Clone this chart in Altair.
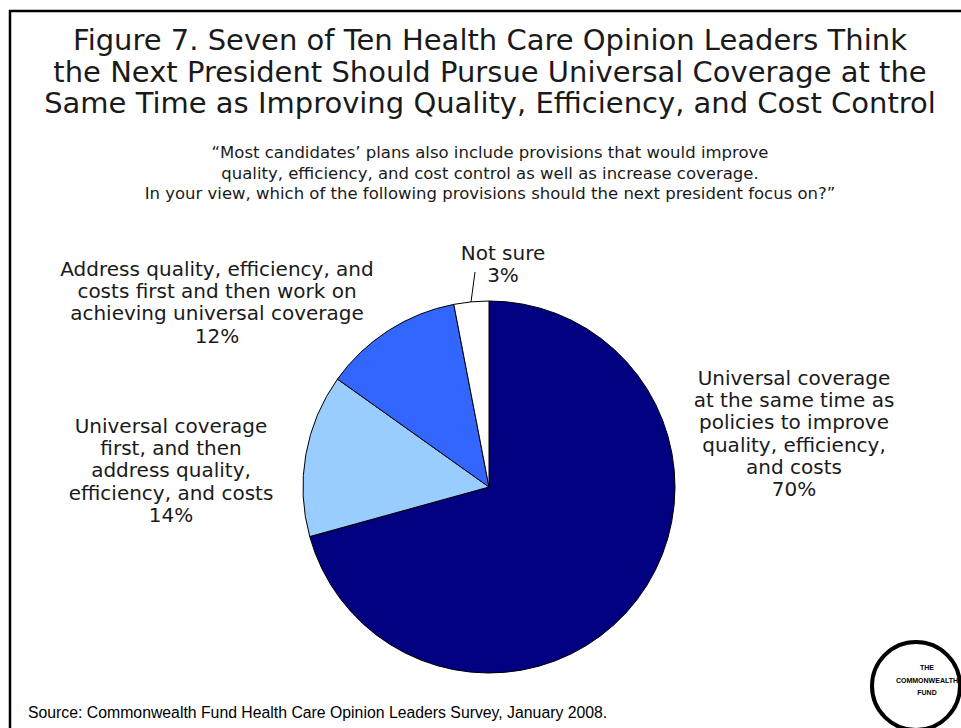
import altair as alt
import pandas as pd

# ---------------- data ----------------
categories = [
    "Universal coverage at the same time as policies to improve quality, efficiency, and costs",
    "Universal coverage first, and then address quality, efficiency, and costs",
    "Address quality, efficiency, and costs first and then work on achieving universal coverage",
    "Not sure",
]
values = [70, 14, 12, 3]
slice_colors = ["#000080", "#99CCFF", "#3366FF", "#FFFFFF"]

label_lines = [
    ["Universal coverage", "at the same time as", "policies to improve",
     "quality, efficiency,", "and costs", "70%"],
    ["Universal coverage", "first, and then", "address quality,",
     "efficiency, and costs", "14%"],
    ["Address quality, efficiency, and", "costs first and then work on",
     "achieving universal coverage", "12%"],
    ["Not sure", "3%"],
]

title_lines = [
    "Figure 7. Seven of Ten Health Care Opinion Leaders Think",
    "the Next President Should Pursue Universal Coverage at the",
    "Same Time as Improving Quality, Efficiency, and Cost Control",
]
subtitle_lines = [
    "\u201cMost candidates\u2019 plans also include provisions that would improve",
    "quality, efficiency, and cost control as well as increase coverage.",
    "In your view, which of the following provisions should the next president focus on?\u201d",
]
source_text = "Source: Commonwealth Fund Health Care Opinion Leaders Survey, January 2008."
logo_lines = ["THE", "COMMONWEALTH", "FUND"]

# ---------------- layout (positions / sizes) ----------------
W, H = 961, 728
CX, CY, R = 489, 487, 186
label_anchor = [(794, 379), (171, 427), (217, 270), (503, 254)]
LABEL_LH = 22.2
TITLE_X, TITLE_Y0, TITLE_LH = 490, 50, 31.5
SUB_Y0, SUB_LH = 158, 20.5

FONT = "DejaVu Sans"
TXT = "#1a1a1a"

xs = alt.Scale(domain=[0, W], range=[0, W], zero=False, nice=False)
ys = alt.Scale(domain=[0, H], range=[0, H], zero=False, nice=False)

# ---------------- pie ----------------
pie_df = pd.DataFrame({"category": categories, "value": values,
                       "idx": list(range(len(values)))})
pie = alt.Chart(pie_df).mark_arc(
    radius=R, stroke="black", strokeWidth=1
).encode(
    theta=alt.Theta("value:Q", stack=True),
    color=alt.Color("category:N", scale=alt.Scale(domain=categories, range=slice_colors),
                    legend=None),
    order=alt.Order("idx:Q"),
    x=alt.value(CX), y=alt.value(CY),
)

# ---------------- slice labels ----------------
rows = []
for lines, (ax, ay) in zip(label_lines, label_anchor):
    for i, t in enumerate(lines):
        rows.append({"text": t, "x": ax, "y": ay + i * LABEL_LH})
lab_df = pd.DataFrame(rows)
labels = alt.Chart(lab_df).mark_text(
    font=FONT, fontSize=20, color=TXT, align="center", baseline="middle"
).encode(
    x=alt.X("x:Q", scale=xs, axis=None),
    y=alt.Y("y:Q", scale=ys, axis=None),
    text="text:N",
)

leader = alt.Chart(pd.DataFrame({"a": [0]})).mark_rule(color="black", strokeWidth=1).encode(
    x=alt.value(475), y=alt.value(272), x2=alt.value(471), y2=alt.value(302)
)

# ---------------- title & subtitle ----------------
t_df = pd.DataFrame({"text": title_lines,
                     "x": [TITLE_X] * 3,
                     "y": [TITLE_Y0 + i * TITLE_LH for i in range(3)]})
title = alt.Chart(t_df).mark_text(
    font=FONT, fontSize=29, color=TXT, align="center", baseline="alphabetic"
).encode(
    x=alt.X("x:Q", scale=xs, axis=None),
    y=alt.Y("y:Q", scale=ys, axis=None),
    text="text:N",
)

s_df = pd.DataFrame({"text": subtitle_lines,
                     "x": [TITLE_X] * 3,
                     "y": [SUB_Y0 + i * SUB_LH for i in range(3)]})
subtitle = alt.Chart(s_df).mark_text(
    font=FONT, fontSize=16.5, color=TXT, align="center", baseline="alphabetic"
).encode(
    x=alt.X("x:Q", scale=xs, axis=None),
    y=alt.Y("y:Q", scale=ys, axis=None),
    text="text:N",
)

source = alt.Chart(pd.DataFrame({"text": [source_text]})).mark_text(
    font="Liberation Sans", fontSize=15.8, color="black", align="left", baseline="middle"
).encode(x=alt.value(28), y=alt.value(713), text="text:N")

# ---------------- frame ----------------
frame_top = alt.Chart(pd.DataFrame({"a": [0]})).mark_rule(color="black", strokeWidth=2.5).encode(
    x=alt.value(9), x2=alt.value(W), y=alt.value(11)
)
frame_left = alt.Chart(pd.DataFrame({"a": [0]})).mark_rule(color="black", strokeWidth=2.5).encode(
    x=alt.value(10), y=alt.value(10), y2=alt.value(H)
)

# ---------------- logo ----------------
logo_circle = alt.Chart(pd.DataFrame({"a": [0]})).mark_point(
    shape="circle", size=88 * 88, filled=True, fill="white", stroke="black",
    strokeWidth=4, opacity=1
).encode(x=alt.value(916), y=alt.value(686))
logo_df = pd.DataFrame({"text": logo_lines, "x": [927] * 3, "y": [668, 681, 693]})
logo_text = alt.Chart(logo_df).mark_text(
    font="Liberation Sans", fontSize=7, fontWeight="bold", color="black",
    align="center", baseline="middle"
).encode(
    x=alt.X("x:Q", scale=xs, axis=None),
    y=alt.Y("y:Q", scale=ys, axis=None),
    text="text:N",
)

chart = alt.layer(
    frame_top, frame_left, pie, leader, labels, title, subtitle, source,
    logo_circle, logo_text
).properties(
    width=W, height=H, padding=0, autosize=alt.AutoSizeParams(type="none"),
    background="white"
).configure_view(stroke=None)

chart.save("out.html", embed_options={"renderer": "svg", "actions": False})
